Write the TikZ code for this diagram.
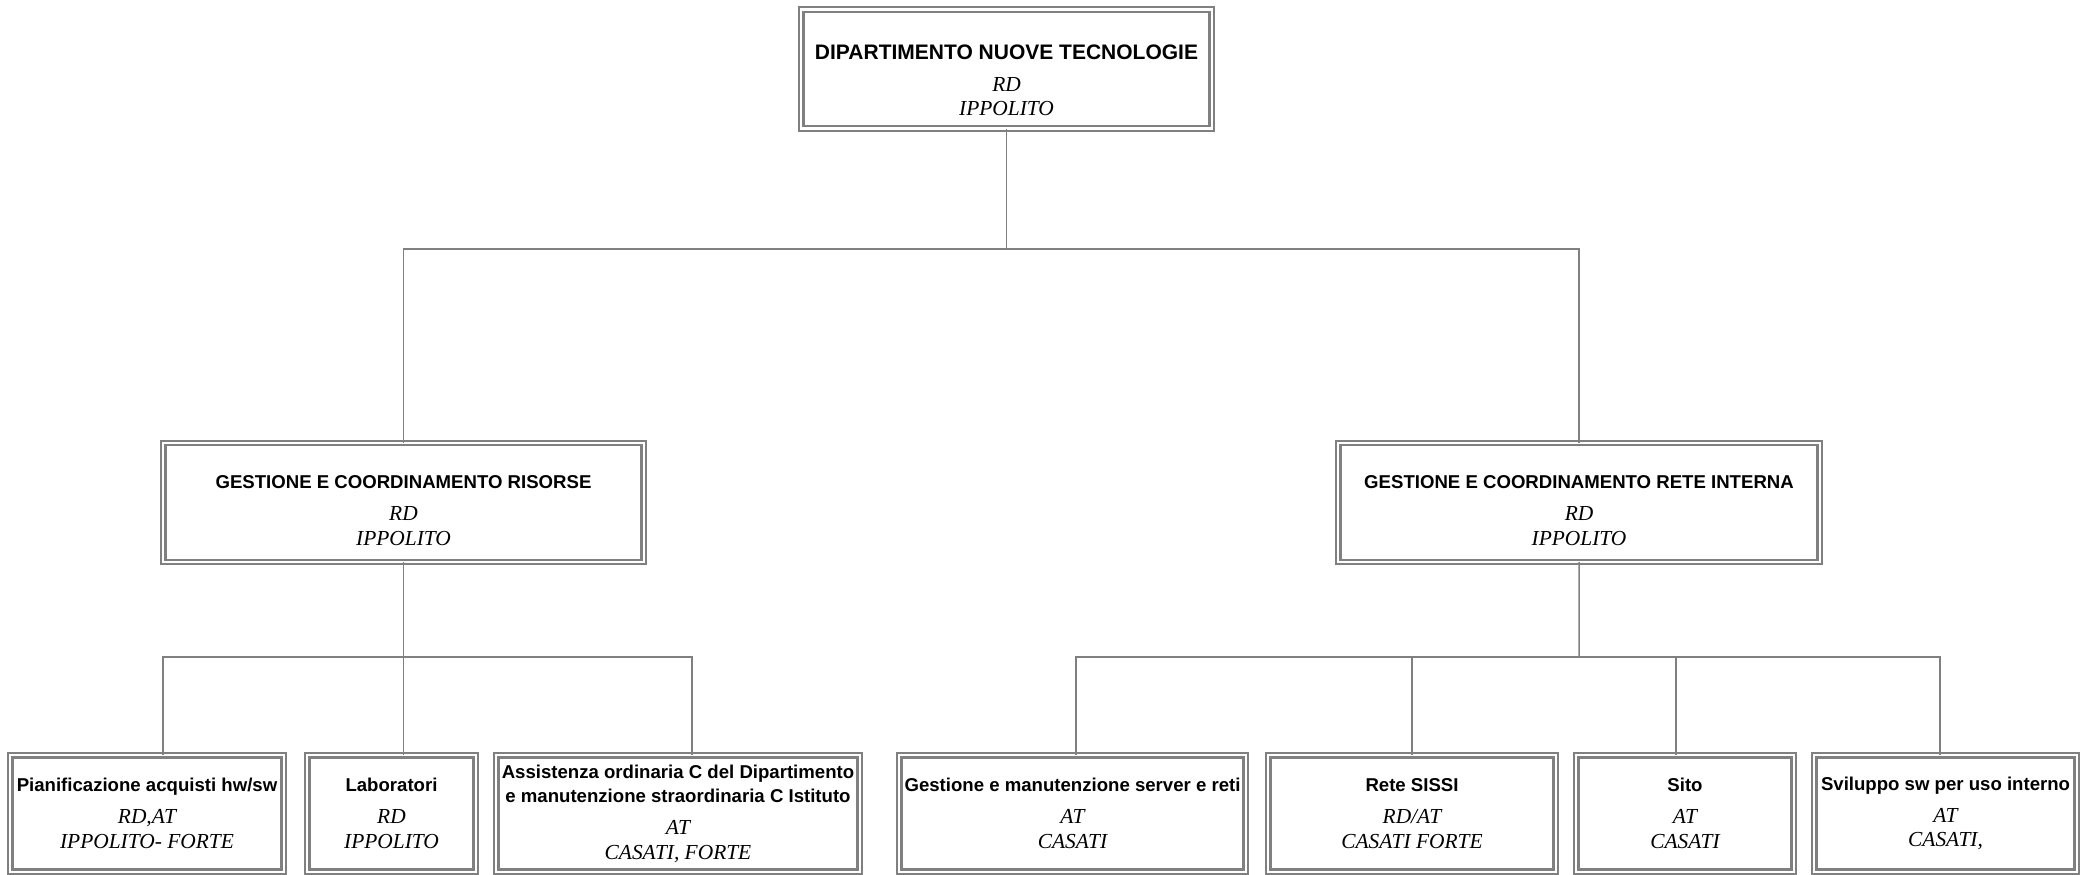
\documentclass[tikz,border=0pt]{standalone}
\usepackage{fontspec}
\setmainfont{Liberation Serif}
\setsansfont{Liberation Sans}
\usetikzlibrary{positioning}
\definecolor{my_gray}{RGB}{128, 128, 128}
\newcommand{\toptitle}{\sffamily\bfseries\upshape\fontsize{10.5}{12.3}\selectfont}
\newcommand{\unittitle}{\sffamily\bfseries\upshape\fontsize{9.3}{11.5}\selectfont}
\tikzset {
  unit/.style = {draw=my_gray, double=white, line width=1.1pt, double distance=1.1pt, rectangle, outer sep=0pt, inner sep=2pt, align=center, minimum height=58.2pt, font=\rmfamily\itshape\fontsize{10.7}{12.3}\selectfont},
  head/.style = {unit, minimum height=59.5pt},
  link/.style = {draw=my_gray, line width=0.75pt}
}

\begin{document}
\begin{tikzpicture}[x=0.5pt, y=-0.5pt]
    \useasboundingbox (0,0) rectangle (2091,874);
    \clip (0,0) rectangle (2091,874);
    \node[head, minimum width=205.2pt, name=dip] at (1006.5,69) (dip) {{\toptitle\rule{0pt}{18.6pt}DIPARTIMENTO NUOVE TECNOLOGIE}\\[3.7pt] RD\\ IPPOLITO};
    \node[head, minimum width=240.2pt, name=risorse] at (403.5,502.5) (risorse) {{\unittitle\rule{0pt}{14.7pt}GESTIONE E COORDINAMENTO RISORSE}\\[3.7pt] RD\\ IPPOLITO};
    \node[head, minimum width=240.7pt, name=rete, right=347.3pt of risorse] (rete) {{\unittitle\rule{0pt}{14.7pt}GESTIONE E COORDINAMENTO RETE INTERNA}\\[3.7pt] RD\\ IPPOLITO};

    \node[unit, minimum width=136.7pt, name=acquisti] at (147,813.5) (acquisti) {{\unittitle Pianificazione acquisti hw/sw}\\[3.7pt] RD,AT\\ IPPOLITO- FORTE};
    \node[unit, minimum width=84.2pt, name=lab, right=11.8pt of acquisti] (lab) {{\unittitle Laboratori}\\[3.7pt] RD\\ IPPOLITO};
    \node[unit, minimum width=181.7pt, name=assist, right=10.3pt of lab] (assist) {{\unittitle Assistenza ordinaria C del Dipartimento}\\ {\unittitle e manutenzione straordinaria C Istituto}\\[3.7pt] AT\\ CASATI, FORTE};
    \node[unit, minimum width=173.2pt, name=server, right=19.8pt of assist] (server) {{\unittitle Gestione e manutenzione server e reti}\\[3.7pt] AT\\ CASATI};
    \node[unit, minimum width=143.7pt, name=sissi, right=11.3pt of server] (sissi) {{\unittitle Rete SISSI}\\[3.7pt] RD/AT\\ CASATI FORTE};
    \node[unit, minimum width=108.7pt, name=sito, right=10.3pt of sissi] (sito) {{\unittitle Sito}\\[3.7pt] AT\\ CASATI};
    \node[unit, minimum width=131.2pt, name=svil, right=10.3pt of sito] (svil) {{\unittitle Sviluppo sw per uso interno}\\[3.7pt] AT\\ CASATI,};

    \coordinate (topbus) at (1006.5,249);
    \coordinate (lbus) at (403.5,657);
    \coordinate (rbus) at (1579,657);

    \draw[link] (dip.south) -- (topbus);
    \draw[link] (risorse.north) |- (topbus) -| (rete.north);
    \draw[link] (risorse.south) -- (lbus);
    \draw[link] (rete.south) -- (rbus);

    \draw[link] ([xshift=8pt]acquisti.north) |- (lbus) -| ([xshift=7pt]assist.north);
    \draw[link] (lbus) -- (lbus |- lab.north);
    \draw[link] ([xshift=1.75pt]server.north) |- (rbus) -| ([xshift=-2.75pt]svil.north);
    \draw[link] (sissi.north) -- (sissi.north |- rbus);
    \draw[link] ([xshift=-4.5pt]sito.north) -- ([xshift=-4.5pt]sito.north |- rbus);

  \end{tikzpicture}
\end{document}
